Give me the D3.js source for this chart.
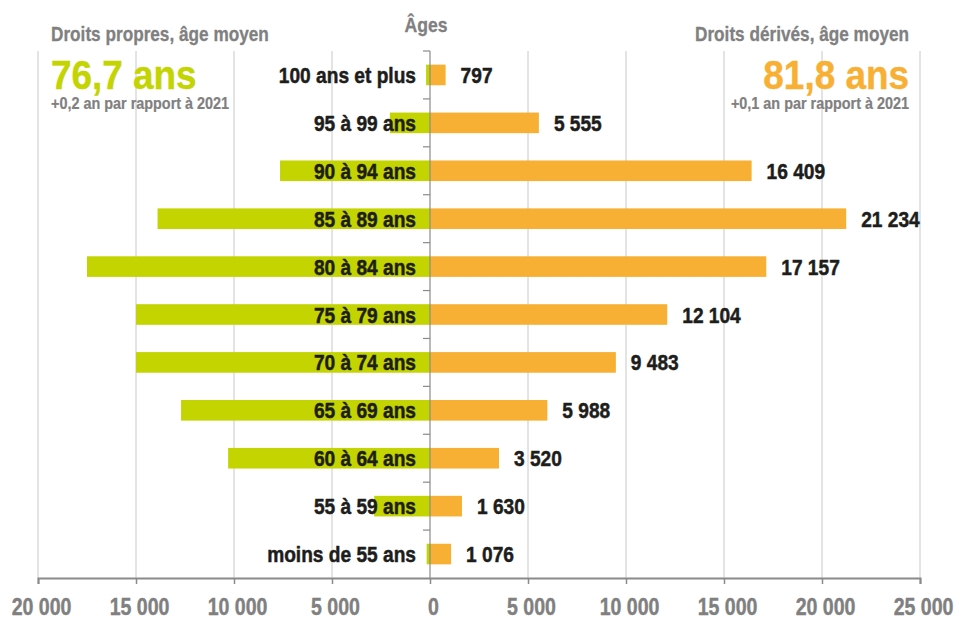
<!DOCTYPE html>
<html><head><meta charset="utf-8">
<script src="https://cdn.jsdelivr.net/npm/d3@7/dist/d3.min.js"></script>
<style>
html,body{margin:0;padding:0;background:#fff;}
svg{display:block;}
text{font-family:"Liberation Sans",Arial,Helvetica,sans-serif;font-weight:bold;}
</style></head>
<body>
<svg id="chart" width="957" height="618"></svg>
<script>
const categories = ["100 ans et plus","95 à 99 ans","90 à 94 ans","85 à 89 ans","80 à 84 ans","75 à 79 ans","70 à 74 ans","65 à 69 ans","60 à 64 ans","55 à 59 ans","moins de 55 ans"];
const droitsPropres = [200, 2050, 7650, 13900, 17500, 15000, 15000, 12700, 10300, 2850, 170];
const droitsDerives = [797, 5555, 16409, 21234, 17157, 12104, 9483, 5988, 3520, 1630, 1076];
const tickValues = [-20000,-15000,-10000,-5000,0,5000,10000,15000,20000,25000];
const leftTitle = "Droits propres, âge moyen";
const rightTitle = "Droits dérivés, âge moyen";
const centerTitle = "Âges";
const leftAvg = "76,7 ans", rightAvg = "81,8 ans";
const leftDelta = "+0,2 an par rapport à 2021", rightDelta = "+0,1 an par rapport à 2021";

const GREEN = "#c3d400", ORANGE = "#f7b033", GRAY = "#808080", DARK = "#1d1d1b";
const svg = d3.select("#chart");
const x = d3.scaleLinear().domain([-20000, 25000]).range([38, 920]);
const y = d3.scaleBand().domain(categories).range([51, 578]).padding(0);
const barH = y.bandwidth() * 0.43;
const fmt = v => d3.format(",")(Math.abs(v)).replace(/,/g, " ");

// condensed text helper: horizontal scale about the anchor point
function ctext(parent, px, py, str, size, fill, anchor, sx, sw) {
  return parent.append("g").attr("transform", `translate(${px},${py}) scale(${sx},1)`)
    .append("text").attr("text-anchor", anchor || "start").attr("font-size", size)
    .attr("fill", fill).attr("stroke", fill).attr("stroke-width", sw || 0)
    .attr("stroke-linejoin", "round").text(str);
}

// gridlines
svg.append("g").selectAll("line").data(tickValues.filter(d => d !== 0)).join("line")
  .attr("x1", d => x(d)).attr("x2", d => x(d)).attr("y1", 51).attr("y2", 578)
  .attr("stroke", "#c8c8c8").attr("stroke-width", 1);

// bars
svg.append("g").selectAll("rect").data(categories).join("rect")
  .attr("x", (d, i) => x(-droitsPropres[i])).attr("width", (d, i) => x(0) - x(-droitsPropres[i]))
  .attr("y", d => y(d) + y.bandwidth()/2 - barH/2).attr("height", barH).attr("fill", GREEN);
svg.append("g").selectAll("rect").data(categories).join("rect")
  .attr("x", x(0)).attr("width", (d, i) => x(droitsDerives[i]) - x(0))
  .attr("y", d => y(d) + y.bandwidth()/2 - barH/2).attr("height", barH).attr("fill", ORANGE);

// bottom axis
const xAxis = d3.axisBottom(x).tickValues(tickValues).tickSize(6).tickFormat(fmt);
const gx = svg.append("g").attr("transform", "translate(0,578)").call(xAxis);
gx.select(".domain").attr("stroke", "#8a8a8a").attr("stroke-width", 2);
gx.selectAll(".tick line").attr("stroke", "#8a8a8a").attr("stroke-width", 1.5);
gx.selectAll(".tick text").attr("fill", GRAY).attr("font-size", 23)
  .attr("stroke", GRAY).attr("stroke-width", 0.4)
  .attr("x", 0).attr("y", 0).attr("dy", 0)
  .attr("transform", "translate(3,37) scale(0.85,1)")
  .style("font-family", '"Liberation Sans",Arial,sans-serif').style("font-weight", "bold");

// zero axis with ticks at band boundaries
const gy = svg.append("g").attr("transform", `translate(${x(0)},0)`);
gy.append("line").attr("y1", 51).attr("y2", 578).attr("stroke", "#8a8a8a").attr("stroke-width", 1.2);
gy.selectAll("line.t").data(categories).join("line").attr("class", "t")
  .attr("x1", -7).attr("x2", 0).attr("y1", d => y(d)).attr("y2", d => y(d))
  .attr("stroke", "#8a8a8a").attr("stroke-width", 1.2);

// category labels
const gc = svg.append("g");
categories.forEach((c, i) => {
  ctext(gc, x(0) - 14, y(c) + y.bandwidth()/2 + 8, c, 22, DARK, "end", 0.87, 0.5);
});

// value labels
const gv = svg.append("g");
categories.forEach((c, i) => {
  ctext(gv, x(droitsDerives[i]) + 15, y(c) + y.bandwidth()/2 + 8, fmt(droitsDerives[i]), 22, DARK, "start", 0.87, 0.5);
});

// titles
ctext(svg, 51, 41, leftTitle, 20, GRAY, "start", 0.86, 0.3);
ctext(svg, 909, 41, rightTitle, 20, GRAY, "end", 0.86, 0.3);
ctext(svg, 426, 32, centerTitle, 20, GRAY, "middle", 0.88, 0.3);
ctext(svg, 51, 89, leftAvg, 41, GREEN, "start", 0.9, 0.4);
ctext(svg, 909, 89, rightAvg, 41, ORANGE, "end", 0.9, 0.4);
ctext(svg, 51, 109, leftDelta, 16, GRAY, "start", 0.9, 0.2);
ctext(svg, 909, 109, rightDelta, 16, GRAY, "end", 0.9, 0.2);
</script>
</body></html>
